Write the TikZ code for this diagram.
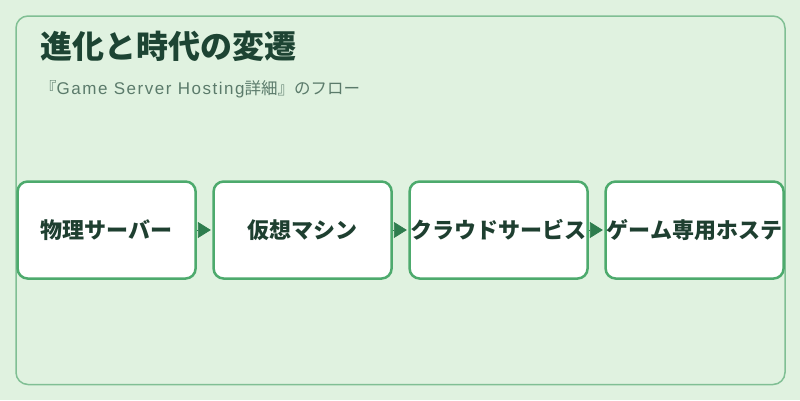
\documentclass[tikz,border=0pt]{standalone}
\usepackage{fontspec}
\setmainfont{Noto Sans CJK JP}
\newfontfamily\latinsub[LetterSpace=9]{Liberation Sans}
\usetikzlibrary{arrows.meta}
\definecolor{bgc}{HTML}{E0F2E0}
\definecolor{panelc}{HTML}{80BF94}
\definecolor{boxc}{HTML}{4DAA6D}
\definecolor{titlec}{HTML}{1D4433}
\definecolor{subc}{HTML}{5B7B6B}
\definecolor{textc}{HTML}{1E3F30}
\definecolor{arrowc}{HTML}{2E7D4E}
\tikzset{
  stepbox/.style={draw=boxc, line width=2.5pt, fill=white, rounded corners=10pt,
    minimum width=178pt, minimum height=97pt, inner sep=0pt,
    font=\fontsize{22}{25}\selectfont\bfseries, text=textc},
  flowarrow/.style={draw=arrowc, line width=0.8pt, shorten >=1.5pt,
    -{Triangle[length=13pt,width=16pt,fill=arrowc]}},
}
\begin{document}
\begin{tikzpicture}[x=1pt,y=-1pt]
\useasboundingbox (0,0) rectangle (800,400);
\fill[bgc] (0,0) rectangle (800,400);
\draw[panelc, line width=1.5pt, fill=bgc, rounded corners=12pt] (16,16) rectangle (785,384.5);
\node[anchor=base west, inner sep=0pt, text=titlec, font=\fontsize{32}{36}\selectfont\bfseries] (title) at (40,58) {進化と時代の変遷};
\node[anchor=base west, inner sep=0pt, text=subc, font=\fontsize{16.5}{19}\selectfont] (subtitle) at (40,94) {『{\latinsub\fontsize{17}{19}\selectfont Game Server Hosting}詳細』のフロー};
\node[stepbox] (b1) at (106.6,230) {物理サーバー};
\node[stepbox] (b2) at (302.6,230) {仮想マシン};
\node[stepbox] (b3) at (498.6,230) {クラウドサービス};
\node[stepbox] (b4) at (694.6,230) {ゲーム専用ホステ};
\draw[flowarrow] (b1.east) -- (b2.west);
\draw[flowarrow] (b2.east) -- (b3.west);
\draw[flowarrow] (b3.east) -- (b4.west);
\end{tikzpicture}
\end{document}
